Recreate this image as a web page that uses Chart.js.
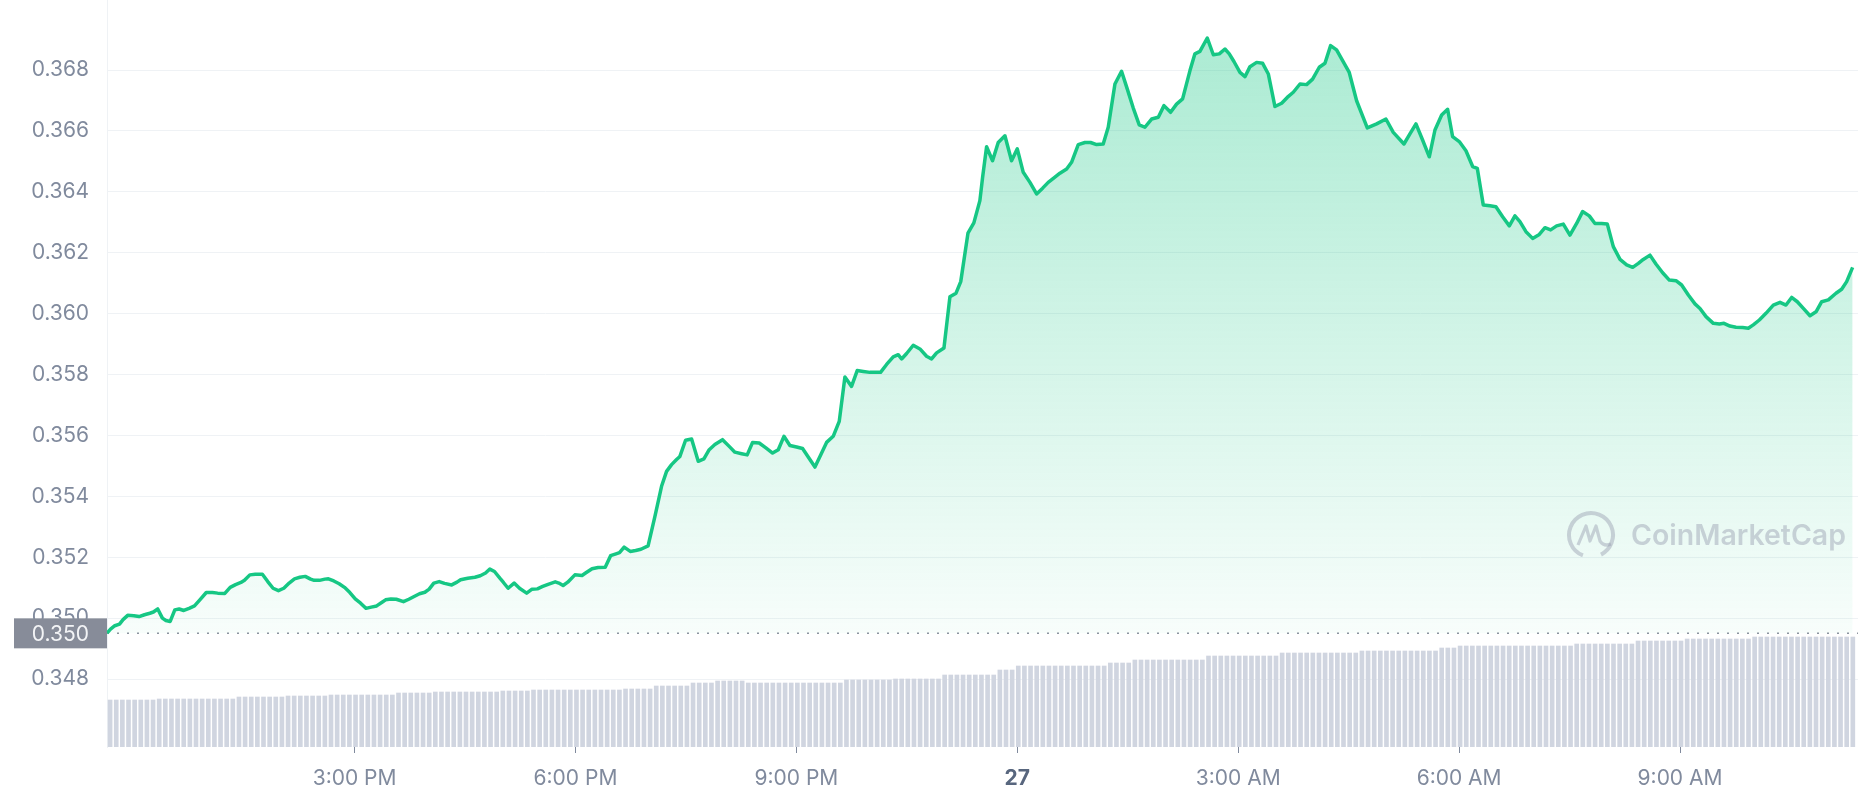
<!DOCTYPE html>
<html>
<head>
<meta charset="utf-8">
<script src="https://cdn.jsdelivr.net/npm/chart.js@4.4.1/dist/chart.umd.min.js"></script>
<style>
  html, body { margin: 0; padding: 0; background: #ffffff; }
  #wrap { position: relative; width: 1858px; height: 800px; }
</style>
</head>
<body>
<div id="wrap"><canvas id="c"></canvas></div>
<script>
// ---- Data (hours since 00:00 of the 26th) ----
const priceTimes = [
  11.638,11.686,11.744,11.808,11.856,11.919,12.002,12.074,12.147,12.220,12.268,12.327,12.390,12.438,12.496,12.559,12.618,12.681,12.753,12.826,
  12.899,12.986,13.069,13.141,13.238,13.311,13.384,13.457,13.505,13.578,13.651,13.748,13.821,13.893,13.966,14.039,14.112,14.184,14.257,14.330,
  14.403,14.451,14.524,14.597,14.645,14.718,14.791,14.863,14.936,15.009,15.082,15.154,15.227,15.300,15.373,15.421,15.494,15.567,15.664,15.737,
  15.809,15.882,15.955,16.013,16.076,16.149,16.222,16.319,16.391,16.440,16.537,16.634,16.707,16.779,16.837,16.900,16.973,17.022,17.085,17.167,
  17.240,17.337,17.410,17.483,17.555,17.628,17.725,17.774,17.832,17.895,17.992,18.089,18.137,18.225,18.307,18.404,18.477,18.550,18.598,18.661,
  18.744,18.817,18.889,18.986,19.079,19.169,19.237,19.305,19.373,19.418,19.495,19.577,19.667,19.744,19.816,19.893,19.997,20.088,20.165,20.256,
  20.332,20.405,20.495,20.586,20.677,20.754,20.831,20.912,21.003,21.084,21.170,21.252,21.333,21.410,21.500,21.582,21.659,21.749,21.826,21.908,
  21.998,22.143,22.225,22.315,22.383,22.429,22.497,22.587,22.678,22.768,22.836,22.904,23.004,23.085,23.168,23.232,23.330,23.410,23.492,23.529,
  23.583,23.664,23.741,23.832,23.922,24.000,24.081,24.172,24.262,24.344,24.420,24.511,24.579,24.670,24.737,24.828,24.919,24.995,25.077,25.167,
  25.235,25.326,25.416,25.493,25.575,25.656,25.733,25.824,25.915,25.992,26.082,26.163,26.245,26.345,26.412,26.480,26.580,26.662,26.743,26.820,
  26.879,26.942,27.024,27.092,27.160,27.250,27.332,27.409,27.499,27.590,27.666,27.748,27.839,27.929,28.010,28.101,28.178,28.255,28.336,28.418,
  28.508,28.608,28.753,28.880,29.006,29.106,29.251,29.332,29.414,29.504,29.595,29.672,29.763,29.844,29.912,30.002,30.093,30.184,30.247,30.328,
  30.419,30.500,30.591,30.682,30.758,30.826,30.908,30.998,31.089,31.166,31.243,31.324,31.415,31.505,31.596,31.677,31.768,31.845,31.935,32.013,
  32.094,32.185,32.275,32.357,32.434,32.501,32.592,32.673,32.764,32.855,32.945,33.022,33.113,33.203,33.271,33.353,33.452,33.534,33.597,33.678,
  33.760,33.851,33.927,33.995,34.077,34.167,34.267,34.358,34.439,34.516,34.593,34.675,34.765,34.847,34.924,35.014,35.118,35.195,35.263,35.344
];
const prices = [
  0.34951,0.34964,0.34975,0.34980,0.34995,0.35009,0.35008,0.35005,0.35011,0.35016,0.35020,0.35030,0.35000,0.34992,0.34989,0.35027,0.35030,0.35025,0.35032,0.35040,
  0.35060,0.35084,0.35084,0.35082,0.35081,0.35101,0.35110,0.35117,0.35124,0.35142,0.35144,0.35144,0.35120,0.35098,0.35090,0.35098,0.35115,0.35129,0.35134,0.35137,
  0.35128,0.35124,0.35124,0.35128,0.35129,0.35122,0.35113,0.35101,0.35084,0.35063,0.35049,0.35032,0.35036,0.35040,0.35052,0.35060,0.35063,0.35062,0.35054,0.35062,
  0.35071,0.35080,0.35085,0.35095,0.35115,0.35120,0.35114,0.35109,0.35118,0.35126,0.35131,0.35134,0.35139,0.35148,0.35161,0.35153,0.35131,0.35117,0.35098,0.35115,
  0.35098,0.35082,0.35095,0.35096,0.35104,0.35111,0.35119,0.35115,0.35107,0.35118,0.35142,0.35140,0.35148,0.35162,0.35166,0.35167,0.35205,0.35211,0.35215,0.35233,
  0.35219,0.35222,0.35226,0.35237,0.35334,0.35433,0.35482,0.35504,0.35521,0.35531,0.35584,0.35588,0.35515,0.35523,0.35553,0.35570,0.35586,0.35564,0.35545,0.35540,
  0.35536,0.35577,0.35575,0.35559,0.35542,0.35553,0.35597,0.35567,0.35562,0.35557,0.35526,0.35496,0.35537,0.35577,0.35597,0.35646,0.35792,0.35761,0.35813,0.35810,
  0.35807,0.35807,0.35833,0.35858,0.35865,0.35851,0.35869,0.35896,0.35884,0.35860,0.35851,0.35871,0.35887,0.36055,0.36067,0.36105,0.36264,0.36298,0.36371,0.36448,
  0.36548,0.36502,0.36562,0.36584,0.36502,0.36541,0.36464,0.36431,0.36393,0.36412,0.36431,0.36448,0.36461,0.36475,0.36497,0.36555,0.36562,0.36562,0.36555,0.36557,
  0.36612,0.36754,0.36796,0.36738,0.36675,0.36620,0.36612,0.36639,0.36645,0.36683,0.36661,0.36688,0.36705,0.36798,0.36853,0.36861,0.36905,0.36850,0.36853,0.36869,
  0.36853,0.36828,0.36792,0.36778,0.36811,0.36825,0.36822,0.36787,0.36680,0.36691,0.36710,0.36727,0.36754,0.36752,0.36770,0.36809,0.36822,0.36880,0.36866,0.36831,
  0.36792,0.36699,0.36610,0.36623,0.36639,0.36595,0.36557,0.36590,0.36623,0.36570,0.36515,0.36603,0.36652,0.36671,0.36581,0.36565,0.36535,0.36483,0.36477,0.36357,
  0.36354,0.36351,0.36318,0.36288,0.36321,0.36302,0.36269,0.36247,0.36260,0.36282,0.36275,0.36288,0.36294,0.36258,0.36296,0.36335,0.36321,0.36296,0.36296,0.36294,
  0.36220,0.36178,0.36160,0.36152,0.36165,0.36178,0.36192,0.36163,0.36134,0.36110,0.36108,0.36094,0.36061,0.36032,0.36017,0.35990,0.35968,0.35966,0.35968,0.35959,
  0.35955,0.35954,0.35952,0.35963,0.35979,0.36001,0.36028,0.36037,0.36028,0.36053,0.36039,0.36017,0.35993,0.36006,0.36039,0.36045,0.36067,0.36080,0.36105,0.36152
];
// 5-minute volume bars (relative units)
const volumeStartHour = 11.68;
const volumeStepMinutes = 5;
const volumes = [
  188,188,188,188,188,188,188,188,
  192,192,192,192,192,192,192,192,192,192,192,192,192,
  200,200,200,200,200,200,200,200,
  204,204,204,204,204,204,204,
  208,208,208,208,208,208,208,208,208,208,208,
  216,216,216,216,216,216,
  220,220,220,220,220,220,220,220,220,220,220,
  224,224,224,224,224,
  228,228,228,228,228,228,228,228,228,228,228,228,228,228,228,
  232,232,232,232,232,
  244,244,244,244,244,244,
  256,256,256,256,
  264,264,264,264,264,
  256,256,256,256,256,256,256,256,256,256,256,256,256,256,256,256,
  268,268,268,268,268,268,268,268,
  272,272,272,272,272,272,272,272,
  288,288,288,288,288,288,288,288,288,
  308,308,308,
  324,324,324,324,324,324,324,324,324,324,324,324,324,324,324,
  336,336,336,336,
  348,348,348,348,348,348,348,348,348,348,348,348,
  364,364,364,364,364,364,364,364,364,364,364,364,
  376,376,376,376,376,376,376,376,376,376,376,376,376,
  384,384,384,384,384,384,384,384,384,384,384,384,384,
  396,396,396,
  404,404,404,404,404,404,404,404,404,404,404,404,404,404,404,404,404,404,404,
  412,412,412,412,412,412,412,412,412,412,
  424,424,424,424,424,424,424,424,
  432,432,432,432,432,432,432,432,432,432,432,
  440,440,440,440,440,440,440,440,440,440,440,440,440,440,440,440,440
];
const referencePrice = 0.34950;
const referenceLabel = '0.350';
const yTickValues = [0.348,0.350,0.352,0.354,0.356,0.358,0.360,0.362,0.364,0.366,0.368];
const xTickValues = [15,18,21,24,27,30,33];
const xTickLabels = ['3:00 PM','6:00 PM','9:00 PM','27','3:00 AM','6:00 AM','9:00 AM'];

// ---- Build datasets ----
const priceData = priceTimes.map((t, i) => ({ x: t, y: prices[i] }));
const volumeData = volumes.map((v, i) => ({ x: volumeStartHour + i * volumeStepMinutes / 60, y: v }));

Chart.defaults.font.family = 'Inter, "Noto Sans", sans-serif';
Chart.defaults.font.size = 21;
Chart.defaults.color = '#808a9d';

const refPlugin = {
  id: 'refPlugin',
  beforeDatasetsDraw(chart) {
    const { ctx, chartArea, scales } = chart;
    const py = scales.y.getPixelForValue(referencePrice);
    ctx.save();
    ctx.setLineDash([2, 8]);
    ctx.strokeStyle = '#8d939f';
    ctx.lineWidth = 1.5;
    ctx.beginPath();
    ctx.moveTo(chartArea.left, py);
    ctx.lineTo(chartArea.right, py);
    ctx.stroke();
    ctx.restore();
  },
  afterDatasetsDraw(chart) {
    // watermark
    const { ctx } = chart;
    ctx.save();
    const col = 'rgba(150,158,175,0.45)';
    ctx.strokeStyle = col;
    ctx.fillStyle = col;
    const cx = 1591, cy = 535, r = 22;
    ctx.lineWidth = 4;
    ctx.beginPath();
    ctx.arc(cx, cy, r, Math.PI * 0.62, Math.PI * 2.35);
    ctx.stroke();
    ctx.lineWidth = 3.2;
    ctx.lineJoin = 'round';
    ctx.beginPath();
    ctx.moveTo(cx - 13, cy + 10);
    ctx.lineTo(cx - 5, cy - 9);
    ctx.lineTo(cx - 1, cy + 6);
    ctx.lineTo(cx + 5, cy - 9);
    ctx.lineTo(cx + 9, cy + 6);
    ctx.quadraticCurveTo(cx + 13, cy + 12, cx + 20, cy + 9);
    ctx.stroke();
    ctx.font = '600 27px Inter, "Noto Sans", sans-serif';
    const txt = 'CoinMarketCap';
    const w = ctx.measureText(txt).width;
    const target = 215;
    const fs = 27 * target / w;
    ctx.font = '600 ' + fs.toFixed(2) + 'px Inter, "Noto Sans", sans-serif';
    ctx.textBaseline = 'middle';
    ctx.textAlign = 'left';
    ctx.fillText(txt, 1631, cy + 1);
    ctx.restore();
  },
  afterDraw(chart) {
    const { ctx, chartArea, scales } = chart;
    const py = scales.y.getPixelForValue(referencePrice);
    ctx.save();
    ctx.fillStyle = '#878c99';
    ctx.fillRect(14, py - 15, chartArea.left - 14, 30);
    ctx.fillStyle = '#f3f4f6';
    ctx.font = '21px Inter, "Noto Sans", sans-serif';
    ctx.textAlign = 'right';
    ctx.textBaseline = 'middle';
    ctx.fillText(referenceLabel, 89, py + 1);
    ctx.restore();
  }
};

new Chart(document.getElementById('c'), {
  type: 'line',
  data: {
    datasets: [
      {
        type: 'line',
        data: priceData,
        yAxisID: 'y',
        borderColor: '#16c784',
        borderWidth: 3.5,
        pointRadius: 0,
        tension: 0,
        borderJoinStyle: 'round',
        fill: { value: referencePrice },
        backgroundColor: (c) => {
          const chart = c.chart;
          const area = chart.chartArea;
          if (!area) return 'rgba(22,199,132,0.2)';
          const y0 = chart.scales.y.getPixelForValue(referencePrice);
          const g = chart.ctx.createLinearGradient(0, area.top, 0, y0);
          g.addColorStop(0, 'rgba(22,199,132,0.38)');
          g.addColorStop(1, 'rgba(22,199,132,0.03)');
          return g;
        },
        order: 1
      },
      {
        type: 'bar',
        data: volumeData,
        yAxisID: 'yv',
        backgroundColor: '#d0d5e0',
        barThickness: 4,
        order: 2
      }
    ]
  },
  options: {
    responsive: true,
    maintainAspectRatio: false,
    animation: false,
    layout: { padding: 0 },
    plugins: { legend: { display: false }, tooltip: { enabled: false } },
    scales: {
      x: {
        type: 'linear',
        min: 11.638,
        max: 35.417,
        offset: false,
        border: { display: false },
        grid: { display: true, offset: false, drawOnChartArea: false, drawTicks: true, tickLength: 6, color: '#808a9d', tickWidth: 1 },
        ticks: {
          autoSkip: false,
          maxRotation: 0,
          padding: 13,
          color: (c) => (c.tick && c.tick.value === 24 ? '#58667e' : '#808a9d'),
          font: (c) => (c.tick && c.tick.value === 24 ? { size: 21, weight: 'bold' } : { size: 21 }),
          callback: (v) => { const k = xTickValues.indexOf(v); return k >= 0 ? xTickLabels[k] : ''; }
        },
        afterBuildTicks: (s) => { s.ticks = xTickValues.map(v => ({ value: v })); },
        afterFit: (s) => { s.height = 53; s.paddingLeft = 0; s.paddingRight = 0; }
      },
      y: {
        type: 'linear',
        position: 'left',
        min: 0.345767,
        max: 0.370299,
        border: { display: true, color: '#eff2f5', width: 1 },
        grid: { color: '#eff2f5', drawTicks: false, lineWidth: 1 },
        ticks: {
          padding: 18,
          color: '#808a9d',
          callback: (v) => Number(v).toFixed(3)
        },
        afterBuildTicks: (s) => { s.ticks = yTickValues.map(v => ({ value: v })); },
        afterFit: (s) => { s.width = 107; s.paddingTop = 0; s.paddingBottom = 0; }
      },
      yv: {
        type: 'linear',
        display: false,
        min: 0,
        max: 2988
      }
    }
  },
  plugins: [refPlugin]
});
</script>
</body>
</html>
